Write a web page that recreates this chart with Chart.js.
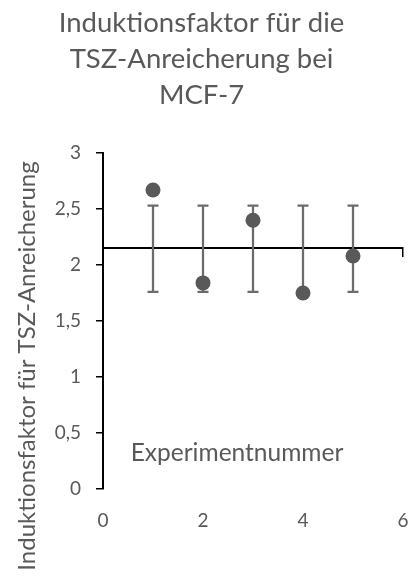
<!DOCTYPE html>
<html lang="de">
<head>
<meta charset="utf-8">
<title>Induktionsfaktor für die TSZ-Anreicherung bei MCF-7</title>
<script src="https://cdn.jsdelivr.net/npm/chart.js@4/dist/chart.umd.min.js"></script>
<style>
  html, body { margin: 0; padding: 0; background: #ffffff; }
  #wrap { width: 413px; height: 576px; }
</style>
</head>
<body>
<div id="wrap"><canvas id="chart" width="413" height="576"></canvas></div>
<script>
// Texts
const titleLines = ['Induktionsfaktor für die', 'TSZ-Anreicherung bei', 'MCF-7'];
const yAxisTitle = 'Induktionsfaktor für TSZ-Anreicherung';
const xAxisTitle = 'Experimentnummer';

// Measurements per experiment
const experiments = [1, 2, 3, 4, 5];
const inductionFactor = [2.67, 1.84, 2.40, 1.75, 2.08];
const errorLow = [1.76, 1.76, 1.76, 1.76, 1.76];
const errorHigh = [2.53, 2.53, 2.53, 2.53, 2.53];

// Horizontal axis crosses the vertical axis at this value
const axisCrossing = 2.15;

// Tick labels
const xTickLabels = ['0', '2', '4', '6'];
const yTickLabels = ['0', '0,5', '1', '1,5', '2', '2,5', '3'];

const TEXT = '#595959';
const FONT = 'Lato';

// Vertical error bars with caps, painted under the markers
const errorBars = {
  id: 'errorBars',
  beforeDatasetsDraw(chart) {
    const { ctx, scales: { x, y } } = chart;
    ctx.save();
    ctx.strokeStyle = '#6b6b6b';
    ctx.lineWidth = 2.25;
    experiments.forEach((e, i) => {
      const px = x.getPixelForValue(e);
      const top = y.getPixelForValue(errorHigh[i]);
      const bot = y.getPixelForValue(errorLow[i]);
      ctx.beginPath();
      ctx.moveTo(px, top); ctx.lineTo(px, bot);
      ctx.moveTo(px - 5.5, top); ctx.lineTo(px + 5.5, top);
      ctx.moveTo(px - 5.5, bot); ctx.lineTo(px + 5.5, bot);
      ctx.stroke();
    });
    ctx.restore();
  }
};

// Free-standing axis titles
const axisTitles = {
  id: 'axisTitles',
  afterDraw(chart) {
    const { ctx, chartArea } = chart;
    ctx.save();
    ctx.fillStyle = TEXT;
    ctx.textAlign = 'center';
    ctx.textBaseline = 'alphabetic';
    ctx.font = '24.5px ' + FONT;
    ctx.fillText(xAxisTitle, chartArea.left + 134, chartArea.bottom - 28);
    ctx.font = '24px ' + FONT;
    ctx.translate(35, chartArea.bottom - 123);
    ctx.rotate(-Math.PI / 2);
    ctx.fillText(yAxisTitle, 0, 0);
    ctx.restore();
  }
};

new Chart(document.getElementById('chart'), {
  type: 'scatter',
  data: {
    datasets: [{
      data: experiments.map((e, i) => ({ x: e, y: inductionFactor[i] })),
      xAxisID: 'x',
      yAxisID: 'y',
      backgroundColor: '#595959',
      borderWidth: 0,
      pointRadius: 7.5,
      pointHoverRadius: 7.5
    }]
  },
  options: {
    responsive: false,
    devicePixelRatio: 1,
    animation: false,
    layout: { padding: { left: 0, right: 10, top: 0, bottom: 0 } },
    plugins: {
      legend: { display: false },
      tooltip: { enabled: false },
      title: {
        display: true,
        text: titleLines,
        color: TEXT,
        font: { family: FONT, size: 27.5, weight: 'normal', lineHeight: 36 / 27.5 },
        padding: { top: 5, bottom: 40 }
      }
    },
    scales: {
      // horizontal axis line with tick marks, crossing at axisCrossing
      x: {
        type: 'linear',
        position: { y: axisCrossing },
        min: 0,
        max: 6,
        ticks: { stepSize: 2, display: false },
        grid: { drawOnChartArea: false, drawTicks: true, tickLength: 8, color: '#000000', lineWidth: 1.5 },
        border: { display: true, color: '#000000', width: 2 }
      },
      // tick labels of the horizontal axis, placed below the plot
      xLabels: {
        axis: 'x',
        type: 'linear',
        position: 'bottom',
        min: 0,
        max: 6,
        afterFit(s) { s.height = 87; },
        ticks: {
          stepSize: 2,
          padding: 0,
          color: TEXT,
          font: { family: FONT, size: 19 },
          callback: (v, i) => xTickLabels[i]
        },
        grid: { display: false, drawTicks: true, tickLength: 20 },
        border: { display: false }
      },
      y: {
        type: 'linear',
        position: 'left',
        min: 0,
        max: 3,
        afterFit(s) { s.width = 103; },
        ticks: {
          stepSize: 0.5,
          padding: 15,
          color: TEXT,
          font: { family: FONT, size: 19 },
          callback: (v, i) => yTickLabels[i]
        },
        grid: { drawOnChartArea: false, drawTicks: true, tickLength: 7, color: '#000000', lineWidth: 1.5 },
        border: { display: true, color: '#000000', width: 2 }
      }
    }
  },
  plugins: [errorBars, axisTitles]
});
</script>
</body>
</html>
